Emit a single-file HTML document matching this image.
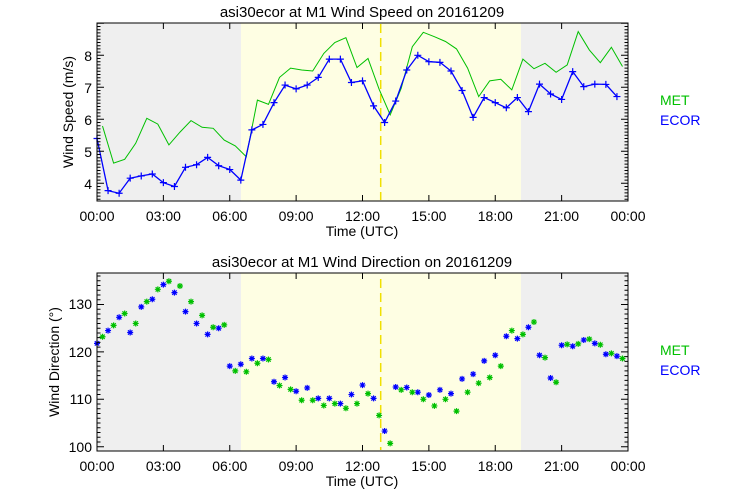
<!DOCTYPE html>
<html><head><meta charset="utf-8"><style>
html,body{margin:0;padding:0;background:#fff;}
svg{display:block;font-family:"Liberation Sans",sans-serif;}
</style></head><body>
<svg id="s" width="740" height="500" viewBox="0 0 740 500" xmlns="http://www.w3.org/2000/svg">
<rect width="740" height="500" fill="#fff"/>
<rect x="97" y="23" width="144" height="178" fill="#efefef"/>
<rect x="241" y="23" width="280" height="178" fill="#fefee3"/>
<rect x="521" y="23" width="107" height="178" fill="#efefef"/>
<line x1="380.7" y1="24" x2="380.7" y2="200" stroke="#f0e000" stroke-width="1.5" stroke-dasharray="9,5"/>
<rect x="97" y="273" width="144" height="178" fill="#efefef"/>
<rect x="241" y="273" width="280" height="178" fill="#fefee3"/>
<rect x="521" y="273" width="107" height="178" fill="#efefef"/>
<line x1="380.7" y1="279" x2="380.7" y2="450" stroke="#f0e000" stroke-width="1.5" stroke-dasharray="9,5"/>
<g id="data"></g>
<g id="axes" stroke="#000" fill="none"></g>
<rect x="97" y="23" width="531" height="178" fill="none" stroke="#000"/>
<rect x="97" y="273" width="531" height="178" fill="none" stroke="#000"/>
<g font-size="14" fill="#000">
<text x="362" y="17" text-anchor="middle" font-size="15">asi30ecor at M1 Wind Speed on 20161209</text>
<text x="97" y="221" text-anchor="middle">00:00</text>
<text x="163.4" y="221" text-anchor="middle">03:00</text>
<text x="229.8" y="221" text-anchor="middle">06:00</text>
<text x="296.1" y="221" text-anchor="middle">09:00</text>
<text x="362.5" y="221" text-anchor="middle">12:00</text>
<text x="428.9" y="221" text-anchor="middle">15:00</text>
<text x="495.3" y="221" text-anchor="middle">18:00</text>
<text x="561.6" y="221" text-anchor="middle">21:00</text>
<text x="628" y="221" text-anchor="middle">00:00</text>
<text x="362" y="236" text-anchor="middle">Time (UTC)</text>
<text x="92" y="61" text-anchor="end">8</text>
<text x="92" y="93" text-anchor="end">7</text>
<text x="92" y="125" text-anchor="end">6</text>
<text x="92" y="157" text-anchor="end">5</text>
<text x="92" y="189" text-anchor="end">4</text>
<text transform="translate(73,112) rotate(-90)" text-anchor="middle">Wind Speed (m/s)</text>
<text x="660" y="105" fill="#00c000">MET</text>
<text x="660" y="125" fill="#0000ff">ECOR</text>

<text x="362" y="267" text-anchor="middle" font-size="15">asi30ecor at M1 Wind Direction on 20161209</text>
<text x="97" y="471" text-anchor="middle">00:00</text>
<text x="163.4" y="471" text-anchor="middle">03:00</text>
<text x="229.8" y="471" text-anchor="middle">06:00</text>
<text x="296.1" y="471" text-anchor="middle">09:00</text>
<text x="362.5" y="471" text-anchor="middle">12:00</text>
<text x="428.9" y="471" text-anchor="middle">15:00</text>
<text x="495.3" y="471" text-anchor="middle">18:00</text>
<text x="561.6" y="471" text-anchor="middle">21:00</text>
<text x="628" y="471" text-anchor="middle">00:00</text>
<text x="362" y="486" text-anchor="middle">Time (UTC)</text>
<text x="92" y="309" text-anchor="end">130</text>
<text x="92" y="357" text-anchor="end">120</text>
<text x="92" y="404" text-anchor="end">110</text>
<text x="92" y="452" text-anchor="end">100</text>
<text transform="translate(59,362) rotate(-90)" text-anchor="middle">Wind Direction (°)</text>
<text x="660" y="355" fill="#00c000">MET</text>
<text x="660" y="375" fill="#0000ff">ECOR</text>
</g>
</svg>
<script>
(function(){
var NS="http://www.w3.org/2000/svg";
var D=document.getElementById("data"),A=document.getElementById("axes");
function el(p,t,a){var e=document.createElementNS(NS,t);for(var k in a)e.setAttribute(k,a[k]);p.appendChild(e);return e;}
function X(h){return 97+h*22.125;}
function Y1(v){return 183.3-(v-4)*32;}
function Y2(d){return 446.7-(d-100)*4.74;}
var s="";
for(var h=0;h<=24;h+=3){var x=X(h);s+="M"+x+" 201v-6M"+x+" 23v6M"+x+" 451v-6M"+x+" 273v6";}
for(var v=3.5;v<=9.0001;v+=0.1){var y=Y1(v);if(y<23||y>201)continue;var maj=Math.abs(v-Math.round(v))<0.01;var L=maj?7:3.5;s+="M97 "+y+"h"+L+"M628 "+y+"h-"+L;}
for(var d=100;d<=136;d+=1){var y=Y2(d);if(y<273)continue;var L=(d%10==0)?7:3.5;s+="M97 "+y+"h"+L+"M628 "+y+"h-"+L;}
el(A,"path",{d:s,"stroke-width":"1"});
var eb=[5.4,3.77,3.69,4.16,4.23,4.29,4.02,3.9,4.5,4.58,4.81,4.55,4.43,4.1,5.67,5.84,6.52,7.07,6.95,7.07,7.31,7.88,7.88,7.15,7.2,6.42,5.9,6.57,7.54,8.0,7.8,7.78,7.51,6.9,6.06,6.68,6.52,6.36,6.68,6.24,7.1,6.79,6.62,7.49,7.02,7.1,7.09,6.71];
var mg=[5.79,4.63,4.75,5.25,6.03,5.85,5.2,5.6,5.96,5.75,5.72,5.35,5.17,4.83,6.6,6.47,7.31,7.6,7.54,7.51,8.06,8.4,8.55,7.62,7.9,6.94,6.14,6.97,8.27,8.72,8.58,8.43,8.2,7.6,6.71,7.2,7.25,6.92,7.88,7.58,7.75,7.47,7.7,8.74,8.17,7.77,8.25,7.65];
var p=[];for(var i=0;i<mg.length;i++)p.push(X(0.25+i*0.5).toFixed(1)+","+Y1(mg[i]).toFixed(1));
el(D,"polyline",{points:p.join(" "),fill:"none",stroke:"#00c000","stroke-width":"1"});
p=[];var m="";for(var i=0;i<eb.length;i++){var x=X(i*0.5),y=Y1(eb[i]);p.push(x.toFixed(1)+","+y.toFixed(1));m+="M"+(x-3.5)+" "+y+"h7M"+x+" "+(y-3.5)+"v7";}
el(D,"polyline",{points:p.join(" "),fill:"none",stroke:"#0000ff","stroke-width":"1.3"});
el(D,"path",{d:m,stroke:"#0000ff","stroke-width":"1.2"});
var ed=[121.8,124.5,127.3,124.1,129.5,131.1,134.2,132.5,128.5,126,123.7,125,117,117.4,118.6,118.6,113.7,114.6,111.7,112.4,110.2,110.2,109.1,111,113,110.2,103.3,112.6,112.5,111.5,110.9,112,111.2,114.3,115.3,118.1,119.3,123.3,122.8,125.2,119.3,114.5,121.4,121.2,122.5,121.8,119.5,119.1];
var md=[123.2,125.6,128.1,126,130.6,133.2,134.9,133.9,130.6,127.7,125.2,125.7,116,115.8,117.6,118.4,112.9,112.1,109.8,109.8,108.7,109.1,108.1,109.1,111.2,106.6,100.7,112,111.5,110,108.6,110,107.5,111.5,113.4,114.6,117,124.5,123.7,126.3,118.8,113.6,121.6,121.7,122.7,121.5,119.7,118.6];
function star(arr,off,col){var m="";for(var i=0;i<arr.length;i++){var x=X(off+i*0.5),y=Y2(arr[i]),r=3,q=2.2;m+="M"+(x-r)+" "+y+"h"+(2*r)+"M"+x+" "+(y-r)+"v"+(2*r)+"M"+(x-q)+" "+(y-q)+"l"+(2*q)+" "+(2*q)+"M"+(x-q)+" "+(y+q)+"l"+(2*q)+" "+(-2*q);}
el(D,"path",{d:m,stroke:col,"stroke-width":"1.2"});}
star(ed,0,"#0000ff");star(md,0.25,"#00c000");
})();
</script>
</body></html>
